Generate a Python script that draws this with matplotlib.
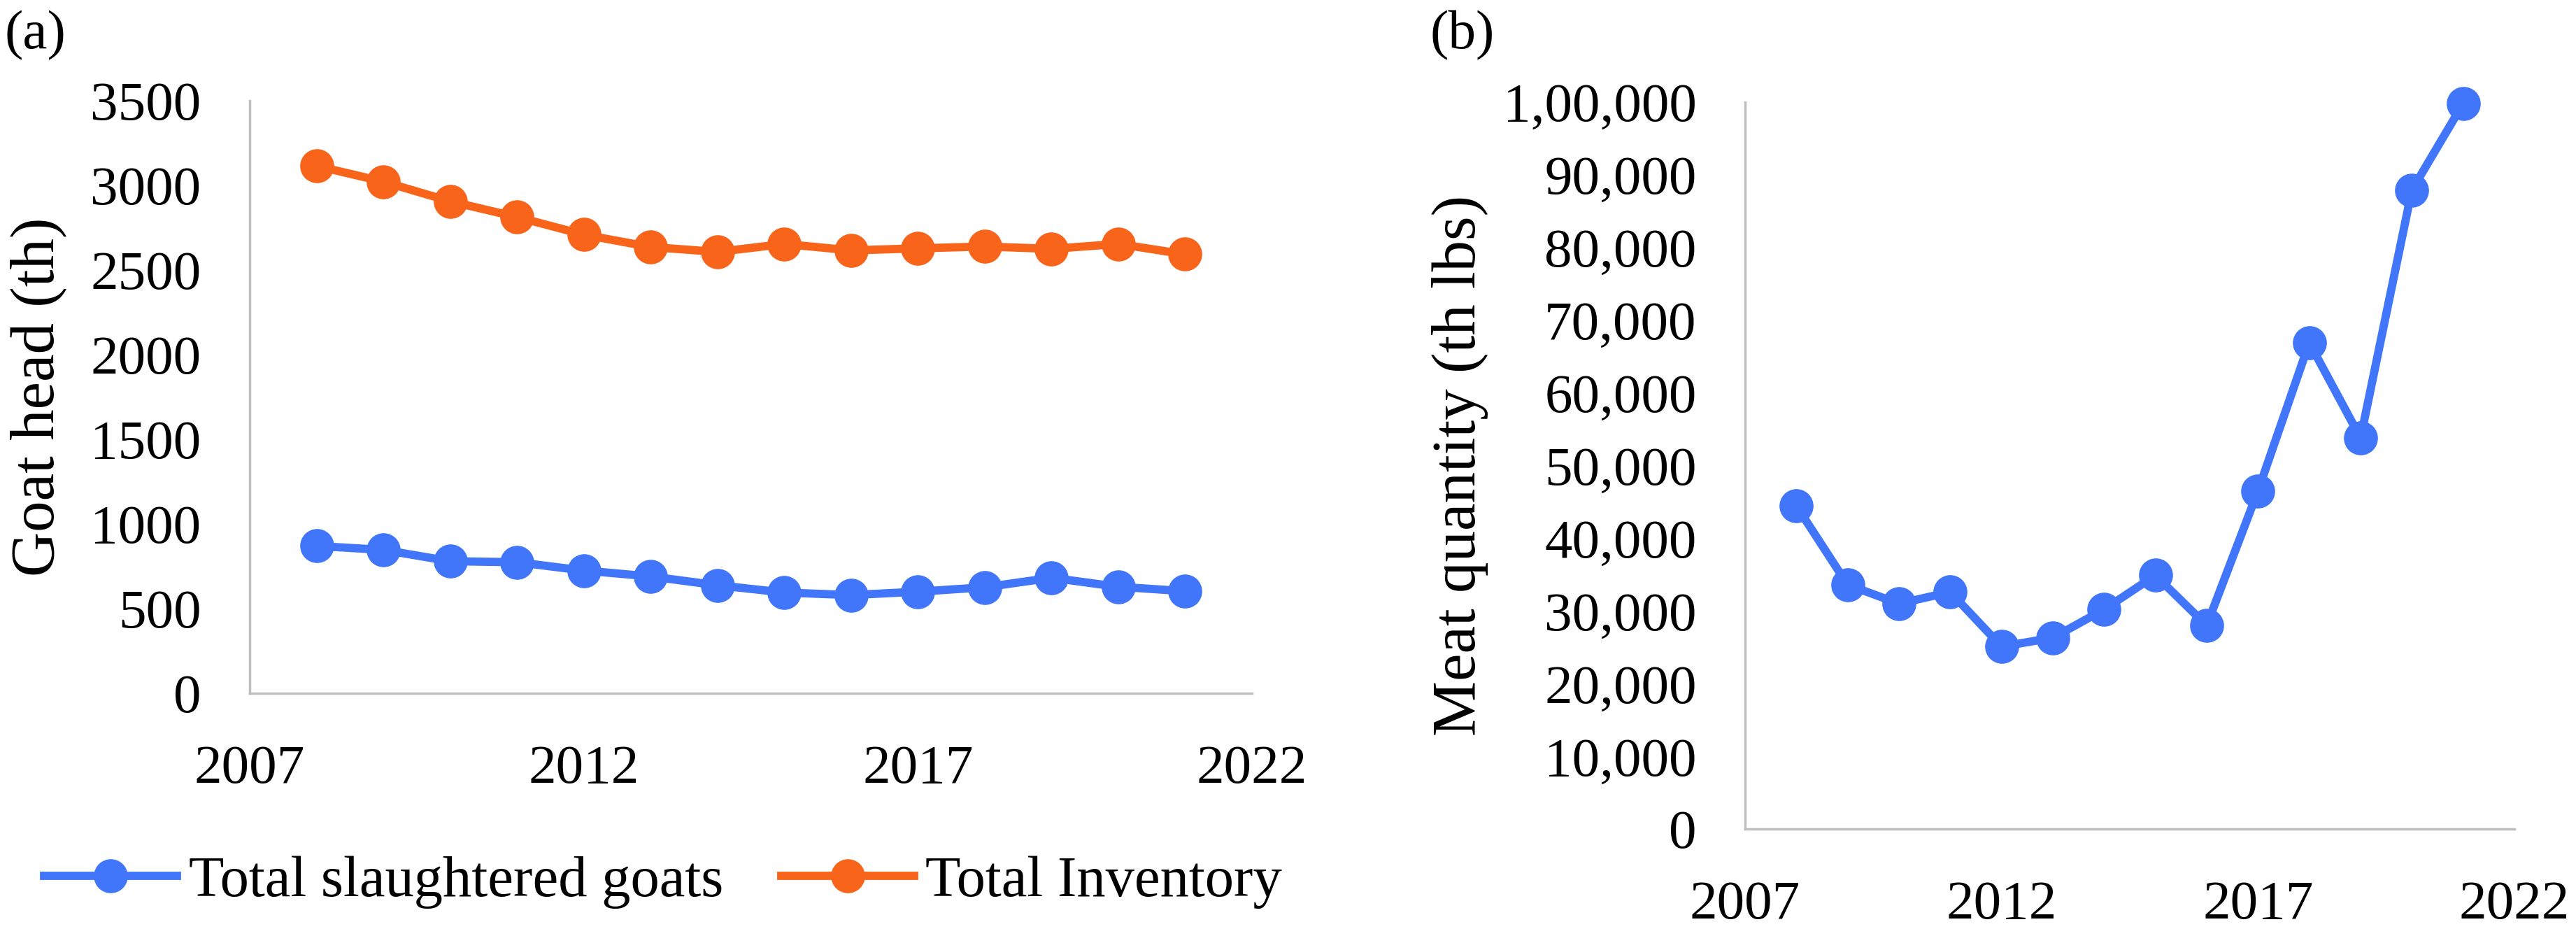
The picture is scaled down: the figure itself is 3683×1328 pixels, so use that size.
import matplotlib.pyplot as plt

years = list(range(2008, 2022))
slaughtered = [870, 847, 780, 774, 725, 690, 638, 595, 580, 600, 626, 682, 629, 603]
inventory = [3115, 3022, 2906, 2813, 2709, 2636, 2607, 2654, 2616, 2628, 2639, 2625, 2654, 2593]
meat = [44450, 33600, 31000, 32600, 25100, 26300, 30200, 34900, 28000, 46500, 66900, 53800, 87900, 99800]

x_ticks = [2007, 2012, 2017, 2022]
a_ticks = [0, 500, 1000, 1500, 2000, 2500, 3000, 3500]
b_ticks = [0, 10000, 20000, 30000, 40000, 50000, 60000, 70000, 80000, 90000, 100000]
b_tick_labels = ["0", "10,000", "20,000", "30,000", "40,000", "50,000",
                 "60,000", "70,000", "80,000", "90,000", "1,00,000"]

blue = "#4176FA"
orange = "#F8641A"
grey = "#BFBFBF"
fs = 57

plt.rcParams["font.family"] = ["Liberation Serif", "DejaVu Serif"]
plt.rcParams["font.size"] = fs

fig = plt.figure(figsize=(36.83, 13.28), dpi=100)
W, H = 3683, 1328
ax1 = fig.add_axes([357 / W, 1 - 991 / H, (1790 - 357) / W, (991 - 144) / H])
ax2 = fig.add_axes([2495 / W, 1 - 1185 / H, (3595 - 2495) / W, (1185 - 146) / H])

style = dict(marker="o", markersize=34, linewidth=8.5, clip_on=False)
ax1.plot(years, slaughtered, color=blue, label="Total slaughtered goats", **style)
ax1.plot(years, inventory, color=orange, label="Total Inventory", **style)
ax2.plot(years, meat, color=blue, **style)

ax1.set_ylim(0, 3500)
ax1.set_yticks(a_ticks)
ax2.set_ylim(0, 100000)
ax2.set_yticks(b_ticks)
ax2.set_yticklabels(b_tick_labels)

for ax in (ax1, ax2):
    ax.set_xlim(2007, 2022)
    ax.set_xticks(x_ticks)
    for s in ("top", "right"):
        ax.spines[s].set_visible(False)
    for s in ("left", "bottom"):
        ax.spines[s].set_color(grey)
        ax.spines[s].set_linewidth(2.5)
    ax.tick_params(axis="y", length=0, pad=50)
    ax.tick_params(axis="x", length=0, pad=53)
    ax.patch.set_visible(False)

ax1.set_ylabel("Goat head (th)", fontsize=64)
ax1.yaxis.label.set_va("center")
ax1.yaxis.set_label_coords(-0.211, 0.5)
ax2.set_ylabel("Meat quantity (th lbs)", fontsize=64)
ax2.yaxis.label.set_va("center")
ax2.yaxis.set_label_coords(-0.37, 0.5)

fig.text(6 / W, 1 - 51 / H, "(a)", ha="left", va="center", fontsize=fs)
fig.text(2044 / W, 1 - 51 / H, "(b)", ha="left", va="center", fontsize=fs)

fig.legend(loc="center left", bbox_to_anchor=(63 / W, 1 - 1261 / H), ncol=2,
           frameon=False, handlelength=2.3, handletextpad=0.2,
           columnspacing=1.0, borderpad=0, borderaxespad=0, fontsize=59.5)

fig.savefig("out.png", dpi=100)
